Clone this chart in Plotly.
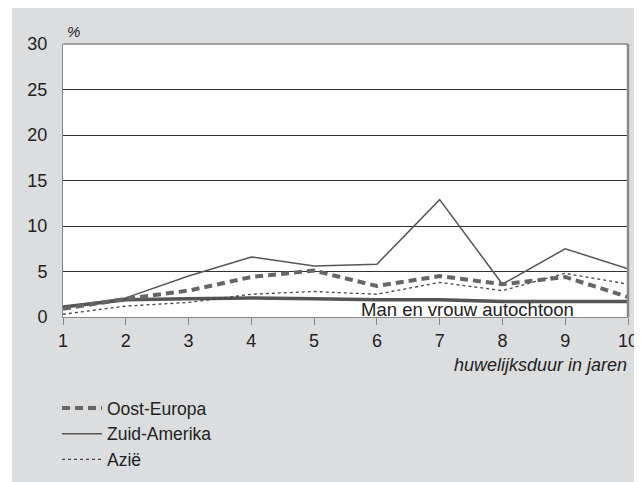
import plotly.graph_objects as go

years = [1, 2, 3, 4, 5, 6, 7, 8, 9, 10]
oost_europa = [0.9, 2.0, 2.9, 4.4, 5.1, 3.4, 4.5, 3.6, 4.4, 2.2]
zuid_amerika = [1.1, 2.1, 4.5, 6.6, 5.6, 5.8, 12.9, 3.6, 7.5, 5.3]
azie = [0.3, 1.2, 1.6, 2.5, 2.8, 2.5, 3.8, 2.9, 4.8, 3.6]
autochtoon = [1.1, 1.9, 2.0, 2.1, 2.0, 1.9, 1.9, 1.7, 1.7, 1.7]
y_ticks = [0, 5, 10, 15, 20, 25, 30]

W, H = 642, 482
OFF = 8  # page body margin
# plot area in screen pixels
SX0, SX1, SY0, SY1 = 63, 628, 44, 317
ML = SX0 - OFF
MR = W - (SX1 - OFF)
MT = SY0 - OFF
MB = H - (SY1 - OFF)
PW, PH = SX1 - SX0, SY1 - SY0

def px_x(sx):
    return (sx - SX0) / PW

def px_y(sy):
    return (SY1 - sy) / PH

FAM = "Liberation Sans, Arial, sans-serif"
font = dict(family=FAM, size=18, color="#222222")

fig = go.Figure()
fig.add_trace(go.Scatter(x=years, y=autochtoon, mode="lines", showlegend=False,
                         line=dict(color="#555555", width=3.5)))
fig.add_trace(go.Scatter(x=years, y=azie, mode="lines", name="Azië",
                         line=dict(color="#444444", width=1.3, dash="3px,3px")))
fig.add_trace(go.Scatter(x=years, y=zuid_amerika, mode="lines", name="Zuid-Amerika",
                         line=dict(color="#555555", width=1.5)))
fig.add_trace(go.Scatter(x=years, y=oost_europa, mode="lines", name="Oost-Europa",
                         line=dict(color="#666666", width=4, dash="8px,5px")))

fig.update_layout(
    width=W, height=H,
    margin=dict(l=ML, r=MR, t=MT, b=MB, autoexpand=False),
    paper_bgcolor="#dcdddf",
    plot_bgcolor="white",
    font=font,
    legend=dict(x=px_x(57), y=px_y(390), xanchor="left", yanchor="top",
                bgcolor="rgba(0,0,0,0)", traceorder="reversed",
                font=dict(family=FAM, size=17.5, color="#222222"),
                itemwidth=40, tracegroupgap=0),
    xaxis=dict(range=[1, 10], tickvals=years, showgrid=False,
               showline=True, linecolor="#888888", linewidth=1,
               ticks="outside", ticklen=7, tickcolor="#888888",
               zeroline=False, mirror=False),
    yaxis=dict(range=[0, 30], tickvals=y_ticks, showgrid=True,
               gridcolor="#333333", gridwidth=1,
               showline=True, linecolor="#888888", linewidth=1,
               ticks="", zeroline=False, ticklabelstandoff=11),
    shapes=[
        dict(type="rect", xref="paper", yref="paper", layer="below",
             x0=px_x(0), x1=px_x(12), y0=px_y(H + 20), y1=px_y(0),
             fillcolor="white", line=dict(width=0)),
        dict(type="line", xref="paper", yref="paper",
             x0=1, x1=1, y0=0, y1=1, line=dict(color="#888888", width=2.5)),
        dict(type="line", xref="paper", yref="paper",
             x0=0, x1=1, y0=1, y1=1, line=dict(color="#888888", width=1.5)),
    ],
    annotations=[
        dict(text="<i>%</i>", xref="paper", yref="paper", x=px_x(65), y=px_y(32),
             xanchor="left", yanchor="middle", showarrow=False,
             font=dict(family=FAM, size=15, color="#222222")),
        dict(text="<i>huwelijksduur in jaren</i>", xref="paper", yref="paper",
             x=px_x(629), y=px_y(365), xanchor="right", yanchor="middle", showarrow=False,
             font=font),
        dict(text="Man en vrouw autochtoon", xref="x", yref="y",
             x=7.45, y=0, yshift=-5, xanchor="center", yanchor="bottom", showarrow=False,
             font=dict(family=FAM, size=18.5, color="#222222")),
    ],
)

fig.write_html("out.html")
